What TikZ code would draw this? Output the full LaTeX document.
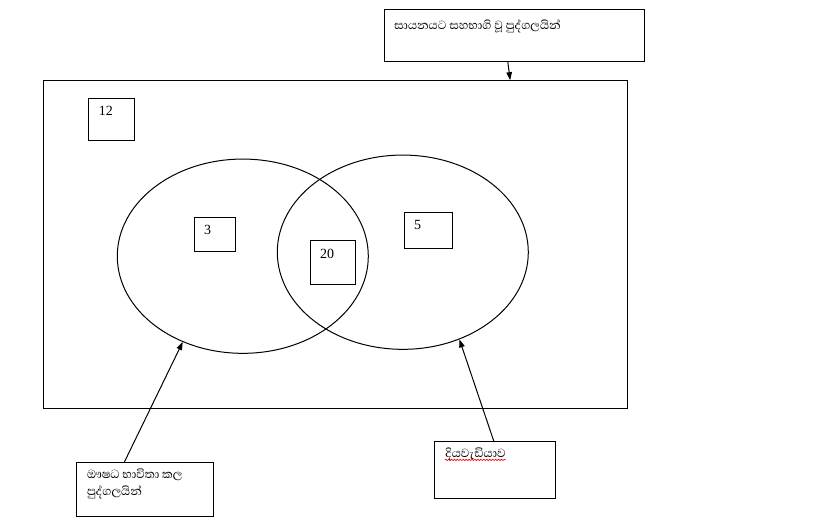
\documentclass[tikz,border=0pt]{standalone}
\usepackage{fontspec}
\setmainfont{Liberation Serif}
\newfontfamily\sinhalafont[Script=Sinhala]{Abhaya Libre}
\usetikzlibrary{arrows.meta,shapes.geometric,fit,calc,decorations.pathmorphing}
\begin{document}
\begin{tikzpicture}[x=0.75pt,y=-0.75pt,
  line width=0.75pt,
  box/.style={draw=black, line width=0.75pt, inner sep=0pt, fit={#1}},
  oval/.style={draw=black, ellipse, line width=0.75pt, inner sep=0pt, minimum width=188.25pt, minimum height=145.7pt},
  num/.style={inner sep=0pt, anchor=base west, font=\fontsize{10.5}{12}\selectfont},
  stxt/.style={inner sep=0pt, anchor=base west, align=left, font=\sinhalafont\fontsize{11.3}{12.75}\selectfont},
  arr/.style={-{Triangle[length=6pt,width=4.2pt]}, line width=0.75pt}]
\useasboundingbox (0,0) rectangle (819,520);
% boxes
\node[box={(384,10) (644.3,61.7)}] (top) {};
\node[box={(43.3,80.7) (627.3,408.3)}] (big) {};
\node[box={(88.3,98.3) (134.3,141)}] (b12) {};
\node[box={(194.3,217.3) (235.3,251.3)}] (b3) {};
\node[box={(310.3,241) (355.3,284.3)}] (b20) {};
\node[box={(404.3,212.3) (452.3,249)}] (b5) {};
\node[box={(76,462.3) (213.3,517)}] (bl) {};
\node[box={(434.3,441.7) (555.3,499)}] (br) {};
% ellipses
\node[oval] (L) at (242.8,256.2) {};
\node[oval] (R) at (402.8,252.2) {};
% numbers
\node[num] (t12) at ($(b12.north west)+(10.5,17.8)$) {12};
\node[num] (t3) at ($(b3.north west)+(9.7,17.8)$) {3};
\node[num] (t20) at ($(b20.north west)+(9.7,18.3)$) {20};
\node[num] (t5) at ($(b5.north west)+(9.7,17.8)$) {5};
% sinhala texts
\node[stxt] (ttop) at ($(top.north west)+(10,20.5)$) {සායනයට සහභාගි වූ පුද්ගලයින්};
\node[stxt, anchor=north west] (tbl) at ($(bl.north west)+(11,7)$) {ඖෂධ භාවිතා කල\\පුද්ගලයින්};
\node[stxt] (tbr) at ($(br.north west)+(11,16.5)$) {දියවැඩියාව};
\draw[red, line width=0.5pt, decorate, decoration={snake, amplitude=0.5pt, segment length=2.2pt}]
  ($(tbr.base west)+(0,2.2)$) -- ($(tbr.base east)+(0,2.2)$);
% arrows
\coordinate (topfoot) at ($(top.south)+(-4,0)$);
\draw[arr] ($(top.south)+(-6.3,0)$) -- (topfoot |- big.north);
\draw[arr] ($(bl.north west)+(49,0)$) -- (L.235);
\draw[arr] ($(br.north west)+(60,0)$) -- (R.303);
\end{tikzpicture}
\end{document}
